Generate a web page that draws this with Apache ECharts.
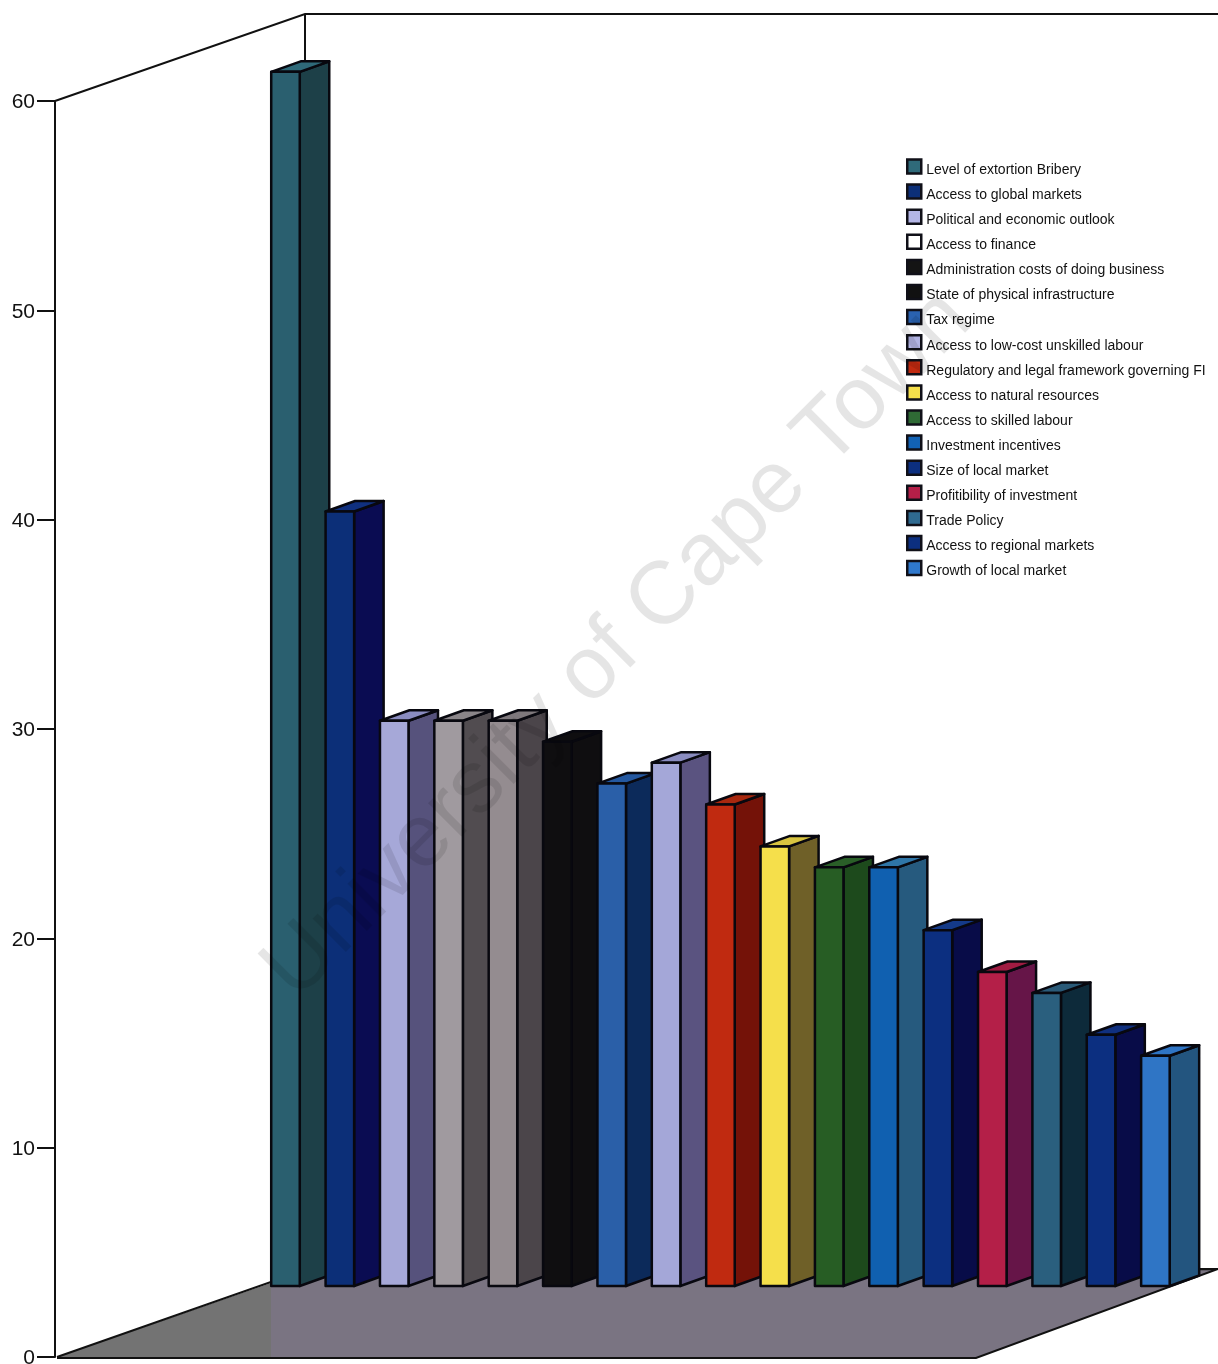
<!DOCTYPE html>
<html>
<head>
<meta charset="utf-8">
<style>html,body{margin:0;padding:0;background:#fff}#chart{width:1218px;height:1364px}</style>
<script src="https://cdn.jsdelivr.net/npm/echarts@6/dist/echarts.min.js"></script>
</head>
<body>
<div id="chart"></div>
<script>
// Factors ranked by score
const categories = [
  'Level of extortion Bribery', 'Access to global markets', 'Political and economic outlook',
  'Access to finance', 'Administration costs of doing business', 'State of physical infrastructure',
  'Tax regime', 'Access to low-cost unskilled labour', 'Regulatory and legal framework governing FI',
  'Access to natural resources', 'Access to skilled labour', 'Investment incentives',
  'Size of local market', 'Profitibility of investment', 'Trade Policy',
  'Access to regional markets', 'Growth of local market'
];
const values = [58, 37, 27, 27, 27, 26, 24, 25, 23, 21, 20, 20, 17, 15, 14, 12, 11];
const yTicks = [0, 10, 20, 30, 40, 50, 60];

// Shading of each column: front face, side face, cap
const frontColors = ['#2a5f6f','#0c2f78','#a6a8d8','#a09a9f','#948c90','#0f0e10','#2a5fa8','#a4a7d8','#c02a10','#f5df4b','#275d24','#1060b0','#0c2f80','#b41f48','#2a5f7e','#0c2f80','#2f75c5'];
const sideColors  = ['#1d4048','#0a0c52','#56527c','#514c50','#4b454a','#0f0e10','#0c2a5a','#5a5380','#741208','#6f6028','#1d4a1c','#265a7e','#080c48','#661548','#0d2a3a','#080c48','#23557f'];
const capColors   = ['#2f6a7a','#10307f','#8a8cc0','#8a8589','#7e787c','#0f0e10','#2458a0','#8a8cc0','#a8280f','#d8c440','#2a5f28','#2f76a8','#143a88','#a01c42','#2a5a78','#10307f','#2f75c5'];
const legendColors = ['#2f6a7a','#0c2f78','#b4b6e6','#ffffff','#141414','#111111','#2a62b0','#b0b2e2','#c02a10','#f5df4b','#2f6a35','#1262b4','#0c2f80','#b41f48','#2f6a90','#0c2f80','#2f78cc'];

const DEPTH_X = 29.5, DEPTH_Y = -10.5, EDGE = '#08080f';

function drawColumn(i) {
  return function (params, api) {
    const top = api.coord([api.value(0), api.value(1)]);
    const base = api.coord([api.value(0), 0]);
    const w = api.size([1, 0])[0] * 0.525;
    const l = top[0] - w / 2, r = top[0] + w / 2;
    const face = (pts, fill) => ({
      type: 'polygon',
      shape: { points: pts },
      style: { fill: fill, stroke: EDGE, lineWidth: 2.5, lineJoin: 'round' }
    });
    return {
      type: 'group',
      children: [
        face([[r, top[1]], [r + DEPTH_X, top[1] + DEPTH_Y], [r + DEPTH_X, base[1] + DEPTH_Y], [r, base[1]]], sideColors[i]),
        face([[l, top[1]], [l + DEPTH_X, top[1] + DEPTH_Y], [r + DEPTH_X, top[1] + DEPTH_Y], [r, top[1]]], capColors[i]),
        face([[l, top[1]], [r, top[1]], [r, base[1]], [l, base[1]]], frontColors[i])
      ]
    };
  };
}

const chart = echarts.init(document.getElementById('chart'), null, { renderer: 'canvas' });
chart.setOption({
  animation: false,
  backgroundColor: '#fff',
  textStyle: { fontFamily: '"Liberation Sans", Arial, sans-serif' },
  grid: [
    { left: 55, top: 101, width: 1163, height: 1256, outerBoundsMode: 'none' },
    { left: 258.3, top: 30, width: 924.3, height: 1256, outerBoundsMode: 'none' }
  ],
  xAxis: [
    { gridIndex: 0, type: 'value', show: false, min: 0, max: 1 },
    { gridIndex: 1, type: 'category', data: categories, show: false, boundaryGap: true }
  ],
  yAxis: [
    {
      gridIndex: 0, type: 'value', min: yTicks[0], max: yTicks[yTicks.length - 1], interval: 10,
      splitLine: { show: false },
      axisLine: { show: true, onZero: false, lineStyle: { color: '#111', width: 2 } },
      axisTick: { show: true, length: 18, lineStyle: { color: '#111', width: 2 } },
      axisLabel: {
        margin: 20, verticalAlign: 'middle',
        formatter: '{v|{value}}',
        rich: { v: { color: '#111', fontSize: 21, lineHeight: 22, padding: [3, 0, 0, 0] } }
      }
    },
    { gridIndex: 1, type: 'value', min: 0, max: 60, show: false }
  ],
  legend: {
    orient: 'vertical', left: 901, top: 151,
    itemWidth: 14, itemHeight: 14, itemGap: 4.1,
    selectedMode: false,
    icon: 'rect',
    formatter: name => '{t|' + name + '}',
    textStyle: {
      rich: { t: { color: '#111', fontSize: 14, lineHeight: 16, padding: [7, 0, 0, 0] } }
    },
    data: categories.map((name, i) => ({
      name,
      itemStyle: { color: legendColors[i], borderColor: '#101018', borderWidth: 2.5 }
    }))
  },
  series: categories.map((name, i) => ({
    name,
    type: 'custom',
    xAxisIndex: 1,
    yAxisIndex: 1,
    clip: false,
    z: 5,
    itemStyle: { color: frontColors[i] },
    renderItem: drawColumn(i),
    encode: { x: 0, y: 1 },
    data: [[i, values[i]]]
  })),
  graphic: [
    // Floor
    { type: 'polygon', z: 0, silent: true, shape: { points: [[57,1357],[271,1283],[271,1358]] }, style: { fill: '#737373' } },
    { type: 'polygon', z: 0, silent: true, shape: { points: [[271,1283],[305,1270],[1218,1269],[976,1358],[271,1358]] }, style: { fill: '#7a7482' } },
    // Back edge and rim of the floor
    { type: 'polyline', z: 1, silent: true, shape: { points: [[57,1357],[305,1270],[1218,1269],[976,1358],[57,1358]] }, style: { stroke: '#111', lineWidth: 2, fill: null } },
    // Walls
    { type: 'polyline', z: 1, silent: true, shape: { points: [[55,101],[305,14],[1218,14]] }, style: { stroke: '#111', lineWidth: 2, fill: null } },
    { type: 'line', z: 1, silent: true, shape: { x1: 305, y1: 14, x2: 305, y2: 70 }, style: { stroke: '#111', lineWidth: 2 } },
    // Repository watermark laid across the plot
    {
      type: 'text', z: 100, silent: true,
      x: 618, y: 645, rotation: Math.PI / 4,
      style: {
        text: 'University of Cape Town',
        font: '89px "Liberation Sans", Arial, sans-serif',
        fill: 'rgba(0,0,0,0.1)',
        textAlign: 'center', textVerticalAlign: 'middle'
      }
    }
  ]
});
</script>
</body>
</html>
